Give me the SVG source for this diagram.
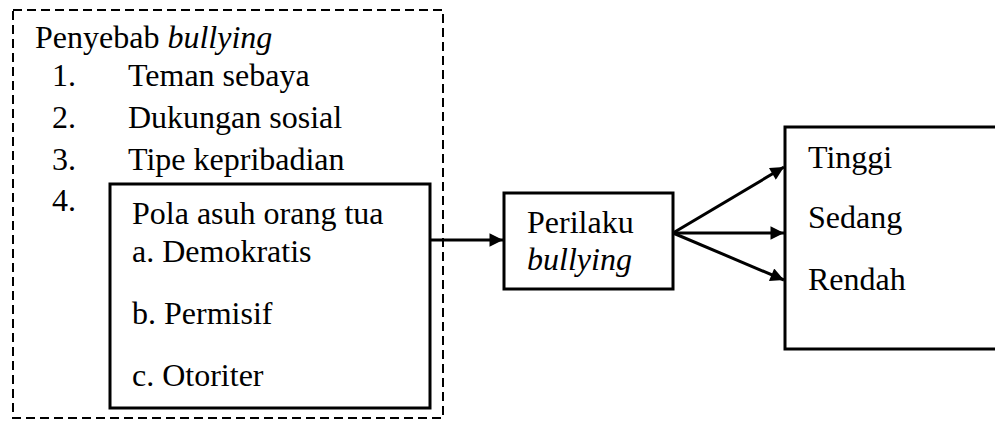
<svg xmlns="http://www.w3.org/2000/svg" width="995" height="421" viewBox="0 0 995 421">
<defs>
<style>
text{font-family:"Liberation Serif","Times New Roman",serif;font-size:32px;fill:#000}
.it{font-style:italic}
.box{fill:#fff;stroke:#000;stroke-width:3}
.dash{fill:none;stroke:#000;stroke-width:2;stroke-dasharray:9 5}
.conn{stroke:#000;stroke-width:3;fill:none}
</style>
<marker id="ah" viewBox="0 0 10 10" refX="10" refY="5" markerWidth="5.5" markerHeight="4.5" markerUnits="strokeWidth" orient="auto">
<path d="M0,0 L10,5 L0,10 z" fill="#000"/>
</marker>
</defs>
<rect width="995" height="421" fill="#fff"/>
<g id="penyebab">
<rect class="dash" x="13" y="10" width="430" height="408"/>
<text x="35" y="48">Penyebab <tspan class="it">bullying</tspan></text>
<text x="52" y="86">1.</text><text x="128" y="86">Teman sebaya</text>
<text x="52" y="128">2.</text><text x="128" y="128">Dukungan sosial</text>
<text x="52" y="170">3.</text><text x="128" y="170">Tipe kepribadian</text>
<text x="52" y="211">4.</text>
</g>
<g id="pola-asuh">
<rect class="box" x="110" y="184" width="320" height="224"/>
<text x="132" y="224">Pola asuh orang tua</text>
<text x="132" y="262">a. Demokratis</text>
<text x="132" y="324">b. Permisif</text>
<text x="132" y="386">c. Otoriter</text>
</g>
<g id="perilaku">
<rect class="box" x="504" y="193" width="169" height="96"/>
<text x="527" y="233">Perilaku</text>
<text x="527" y="270" class="it">bullying</text>
</g>
<g id="tingkat">
<rect class="box" x="785" y="127" width="230" height="222"/>
<text x="808" y="168">Tinggi</text>
<text x="808" y="228">Sedang</text>
<text x="808" y="290">Rendah</text>
</g>
<g id="connectors">
<line class="conn" x1="430" y1="240" x2="503" y2="240" marker-end="url(#ah)"/>
<line class="conn" x1="673" y1="233" x2="784" y2="167" marker-end="url(#ah)"/>
<line class="conn" x1="673" y1="233" x2="784" y2="233" marker-end="url(#ah)"/>
<line class="conn" x1="673" y1="233" x2="784" y2="280" marker-end="url(#ah)"/>
</g>
</svg>
